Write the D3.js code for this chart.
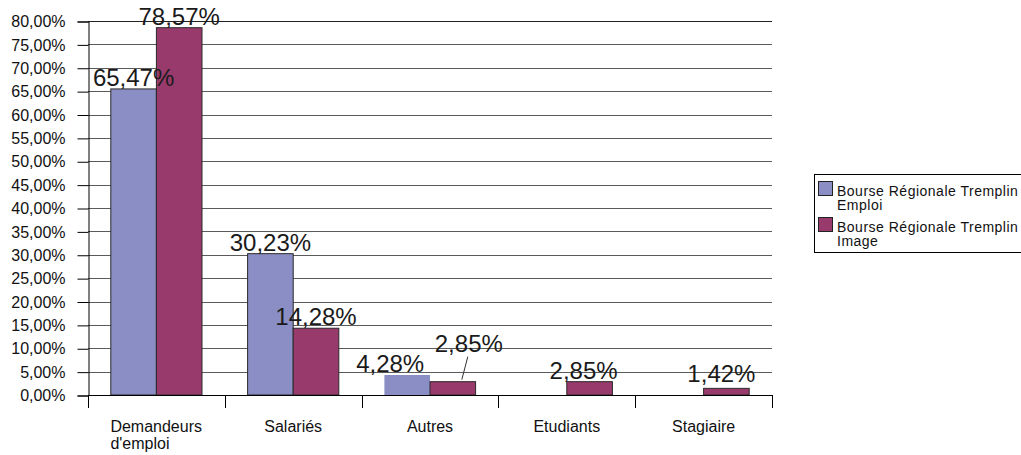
<!DOCTYPE html>
<html>
<head>
<meta charset="utf-8">
<script src="https://cdn.jsdelivr.net/npm/d3@7"></script>
<style>
  html, body { margin: 0; padding: 0; background: #fff; }
  svg { display: block; font-family: "Liberation Sans", Arial, sans-serif; }
</style>
</head>
<body>
<svg id="chart" width="1021" height="455"></svg>
<script>
const categories = ["Demandeurs d'emploi", "Salariés", "Autres", "Etudiants", "Stagiaire"];
const seriesNames = ["Bourse Régionale Tremplin Emploi", "Bourse Régionale Tremplin Image"];
const emploiValues = [65.47, 30.23, 4.28, 0, 0];
const imageValues = [78.57, 14.28, 2.85, 2.85, 1.42];
const yTicks = [0, 5, 10, 15, 20, 25, 30, 35, 40, 45, 50, 55, 60, 65, 70, 75, 80];

const colors = ["#8a8ec4", "#993a6c"];
const svg = d3.select("#chart");

const plot = { left: 88, right: 772, top: 21, bottom: 395 };

const x0 = d3.scaleBand().domain(categories).range([plot.left, plot.right]).padding(0);
const bw = x0.bandwidth();
const x1 = d3.scaleBand().domain([0, 1]).range([bw / 6, bw * 5 / 6]).padding(0);
const y = d3.scaleLinear().domain([0, 80]).range([plot.bottom, plot.top]);

const fmt = v => v.toFixed(2).replace(".", ",") + "%";

// gridlines
svg.append("g").selectAll("line").data(yTicks.filter(t => t > 0)).join("line")
  .attr("x1", plot.left).attr("x2", plot.right)
  .attr("y1", d => Math.round(y(d)) + 0.5).attr("y2", d => Math.round(y(d)) + 0.5)
  .attr("stroke", d => d === 80 ? "#222" : "#5a5a5a").attr("stroke-width", 1);

// y axis
const yAxis = d3.axisLeft(y).tickValues(yTicks).tickSize(11).tickPadding(12).tickFormat(fmt);
const gy = svg.append("g").attr("transform", `translate(${plot.left + 0.5},0.5)`).call(yAxis);
gy.select(".domain").attr("stroke", "#000");
gy.selectAll(".tick line").attr("stroke", "#000");
gy.selectAll(".tick text").attr("font-size", 16).attr("fill", "#111")
  .attr("font-family", "'Liberation Sans', Arial, sans-serif");

// bars
const data = [];
categories.forEach((c, i) => {
  data.push({ c, s: 0, v: emploiValues[i] });
  data.push({ c, s: 1, v: imageValues[i] });
});

svg.append("g").selectAll("rect").data(data.filter(d => d.v > 0)).join("rect")
  .attr("x", d => x0(d.c) + x1(d.s))
  .attr("y", d => y(d.v))
  .attr("width", x1.bandwidth())
  .attr("height", d => y(0) - y(d.v))
  .attr("fill", d => colors[d.s])
  .attr("stroke", d => (d.c === "Autres" && d.s === 0) ? "none" : "#2a2a2a")
  .attr("stroke-width", 1);

// x axis line
svg.append("line")
  .attr("x1", plot.left).attr("x2", plot.right)
  .attr("y1", Math.round(y(0)) + 0.5).attr("y2", Math.round(y(0)) + 0.5)
  .attr("stroke", "#000");

// x tick marks at category boundaries
const bounds = categories.map(c => x0(c)).concat([plot.right]);
svg.append("g").selectAll("line").data(bounds).join("line")
  .attr("x1", d => Math.round(d) + 0.5).attr("x2", d => Math.round(d) + 0.5)
  .attr("y1", y(0)).attr("y2", y(0) + 13)
  .attr("stroke", "#000");

// category labels
const xl = svg.append("g").selectAll("text").data(categories).join("text")
  .attr("font-size", 16).attr("fill", "#111");
xl.each(function (c) {
  const t = d3.select(this);
  const cx = x0(c) + bw / 2;
  if (c === "Demandeurs d'emploi") {
    t.attr("x", cx - 46).attr("y", 433).attr("text-anchor", "start");
    t.append("tspan").attr("x", cx - 46).attr("y", 432).text("Demandeurs");
    t.append("tspan").attr("x", cx - 46).attr("y", 449).text("d'emploi");
  } else {
    t.attr("x", cx).attr("y", 432).attr("text-anchor", "middle").text(c);
  }
});

// value labels (with manual nudges as in the original)
const nudge = {
  "Autres-0": [-17, 0],
  "Autres-1": [16, -27],
  "Etudiants-1": [-6, 0],
  "Stagiaire-1": [-5, -3]
};
const lbl = svg.append("g");
data.filter(d => d.v > 0).forEach(d => {
  const n = nudge[d.c + "-" + d.s] || [0, 0];
  const cx = x0(d.c) + x1(d.s) + x1.bandwidth() / 2;
  lbl.append("text")
    .attr("x", cx + n[0])
    .attr("y", y(d.v) - 3 + n[1])
    .attr("text-anchor", "middle")
    .attr("font-size", 24)
    .attr("fill", "#1a1a1a")
    .text(fmt(d.v));
  if (d.c === "Autres" && d.s === 1) {
    lbl.append("line")
      .attr("x1", cx + 15).attr("y1", y(d.v) - 25)
      .attr("x2", cx + 9).attr("y2", y(d.v) - 2)
      .attr("stroke", "#333").attr("stroke-width", 1);
  }
});

// legend
const lg = svg.append("g");
lg.append("rect").attr("x", 814.5).attr("y", 174.5).attr("width", 220).attr("height", 78)
  .attr("fill", "#fff").attr("stroke", "#000");
seriesNames.forEach((s, i) => {
  const yy = 181.5 + i * 36;
  lg.append("rect").attr("x", 818.5).attr("y", yy).attr("width", 14).attr("height", 14)
    .attr("fill", colors[i]).attr("stroke", "#222");
  const words = s.split(" ");
  const t = lg.append("text").attr("font-size", 14).attr("fill", "#111")
    .attr("letter-spacing", 0.5);
  t.append("tspan").attr("x", 837).attr("y", yy + 14.5).text(words.slice(0, 3).join(" "));
  t.append("tspan").attr("x", 837).attr("y", yy + 28.5).text(words.slice(3).join(" "));
});
</script>
</body>
</html>
